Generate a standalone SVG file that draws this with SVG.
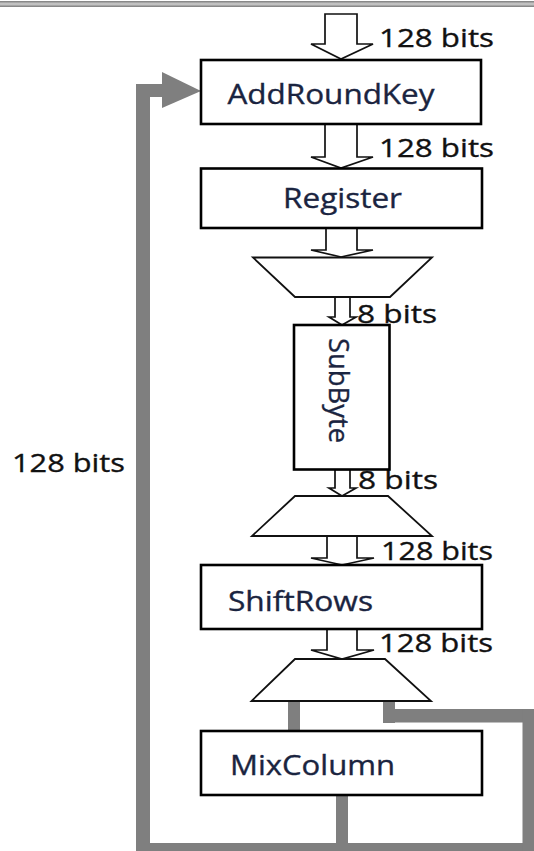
<svg xmlns="http://www.w3.org/2000/svg" width="534" height="851" viewBox="0 0 534 851">
<defs>
<linearGradient id="topband" x1="0" y1="0" x2="0" y2="1">
<stop offset="0" stop-color="#7a7a7a"/>
<stop offset="0.5" stop-color="#cfcfcf"/>
<stop offset="1" stop-color="#7a7a7a"/>
</linearGradient>
</defs>
<style>
.box{fill:#ffffff;stroke:#000000;stroke-width:2.6}
.trap{fill:#ffffff;stroke:#111111;stroke-width:1.8;stroke-linejoin:miter}
.harrow{fill:#ffffff;stroke:#111111;stroke-width:1.7;stroke-linejoin:miter}
.gray{fill:#7f7f7f;stroke:none}
.node{font-family:"Open Sans",Lato,"Liberation Sans",sans-serif;font-size:27.5px;fill:#1a2440;stroke:#1a2440;stroke-width:0.35}
.lbl{font-family:"Open Sans",Lato,"Liberation Sans",sans-serif;font-size:26px;fill:#111111;stroke:#111111;stroke-width:0.35}
</style>
<rect x="0" y="0" width="534" height="851" fill="#ffffff"/>
<rect x="0" y="1" width="534" height="6" fill="url(#topband)"/>

<g id="connectors">
<!-- feedback path (gray) -->
<rect class="gray" x="136" y="84" width="14" height="767"/>
<rect class="gray" x="136" y="84" width="28" height="13"/>
<polygon class="gray" points="162,72 201,91 162,108"/>
<rect class="gray" x="136" y="843" width="400" height="10"/>
<rect class="gray" x="336" y="795" width="12" height="49"/>
<rect class="gray" x="288" y="700" width="12" height="31"/>
<rect class="gray" x="383" y="700" width="12" height="23"/>
<rect class="gray" x="383" y="709" width="153" height="13.5"/>
<rect class="gray" x="522.5" y="709" width="14" height="142"/>
<!-- hollow block arrows -->
<polygon class="harrow" points="325,14 357,14 357,44 373,44 341,59 311,44 325,44"/>
<polygon class="harrow" points="325,124 357,124 357,157 373,157 341,168 311,157 325,157"/>
<polygon class="harrow" points="326,228 357,228 357,250 373,250 341,257 311,250 326,250"/>
<polygon class="harrow" points="335,297 350,297 350,317 356,317 342,325 329,317 335,317"/>
<polygon class="harrow" points="335,469.5 350,469.5 350,488 356,488 342,496 329,488 335,488"/>
<polygon class="harrow" points="327,536 357,536 357,558 374,558 342,565 311,558 327,558"/>
<polygon class="harrow" points="327,629 357,629 357,650 374,650 342,659 311,650 327,650"/>
<!-- labels -->
<text class="lbl" x="379" y="47" textLength="115" lengthAdjust="spacingAndGlyphs">128 bits</text>
<text class="lbl" x="379" y="157" textLength="115" lengthAdjust="spacingAndGlyphs">128 bits</text>
<text class="lbl" x="357" y="323" font-size="29" textLength="80" lengthAdjust="spacingAndGlyphs">8 bits</text>
<text class="lbl" x="358" y="489" font-size="29" textLength="80" lengthAdjust="spacingAndGlyphs">8 bits</text>
<text class="lbl" x="381" y="560" textLength="112" lengthAdjust="spacingAndGlyphs">128 bits</text>
<text class="lbl" x="379" y="652" textLength="114" lengthAdjust="spacingAndGlyphs">128 bits</text>
<text class="lbl" x="12" y="472" font-size="27" textLength="113" lengthAdjust="spacingAndGlyphs">128 bits</text>
</g>

<g id="addroundkey">
<rect class="box" x="201" y="60" width="280" height="64"/>
<text class="node" x="227.5" y="104" textLength="207" lengthAdjust="spacingAndGlyphs">AddRoundKey</text>
</g>
<g id="register">
<rect class="box" x="201" y="168.5" width="281" height="59.5"/>
<text class="node" x="283" y="208" textLength="119" lengthAdjust="spacingAndGlyphs">Register</text>
</g>
<g id="demux">
<polygon class="trap" points="253,257.5 432,257.5 390,297 295,297"/>
</g>
<g id="subbyte">
<rect class="box" x="294" y="325" width="95.5" height="144.5"/>
<text class="node" transform="translate(329,338) rotate(90)" x="0" y="0" font-size="29" textLength="105" lengthAdjust="spacingAndGlyphs">SubByte</text>
</g>
<g id="mux">
<polygon class="trap" points="295,496 388,496 432,536 252,536"/>
</g>
<g id="shiftrows">
<rect class="box" x="201" y="565" width="281" height="64"/>
<text class="node" x="228" y="611" textLength="145" lengthAdjust="spacingAndGlyphs">ShiftRows</text>
</g>
<g id="mix-demux">
<polygon class="trap" points="295,659 385,659 431,701 251.5,701"/>
</g>
<g id="mixcolumn">
<rect class="box" x="201" y="731" width="281" height="64"/>
<text class="node" x="230" y="775" textLength="165" lengthAdjust="spacingAndGlyphs">MixColumn</text>
</g>
</svg>
